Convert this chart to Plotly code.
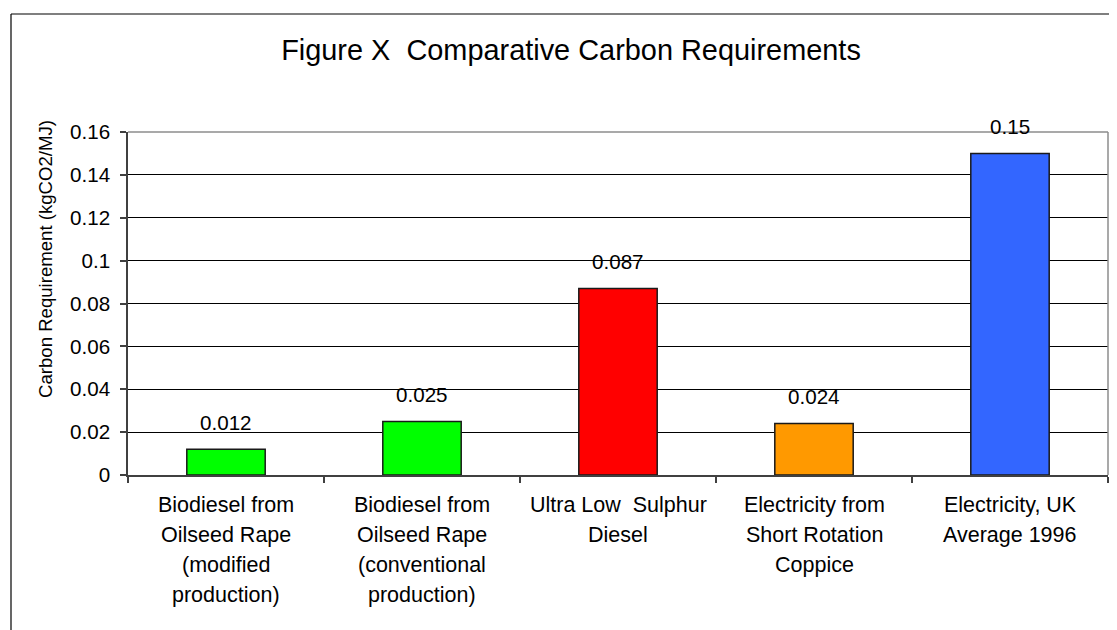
import plotly.graph_objects as go

categories = [
    "Biodiesel from<br>Oilseed Rape<br>(modified<br>production)",
    "Biodiesel from<br>Oilseed Rape<br>(conventional<br>production)",
    "Ultra Low  Sulphur<br>Diesel",
    "Electricity from<br>Short Rotation<br>Coppice",
    "Electricity, UK<br>Average 1996",
]
values = [0.012, 0.025, 0.087, 0.024, 0.15]
value_labels = ["0.012", "0.025", "0.087", "0.024", "0.15"]
bar_colors = ["#00FF00", "#00FF00", "#FF0000", "#FF9900", "#3366FF"]
y_ticks = [0, 0.02, 0.04, 0.06, 0.08, 0.1, 0.12, 0.14, 0.16]
y_tick_text = ["0", "0.02", "0.04", "0.06", "0.08", "0.1", "0.12", "0.14", "0.16"]

W, H = 1117, 630
OFF = 8  # page offset of the figure in the browser
L, R, T, B = 128, 1108, 132, 475  # plot area in reference pixels
FONT = "Liberation Sans, Arial, sans-serif"

fig = go.Figure()
fig.add_trace(go.Bar(
    x=list(range(len(categories))),
    y=values,
    marker=dict(color=bar_colors, line=dict(color="#1a1a1a", width=1.5)),
    width=0.4,
    hoverinfo="skip",
))

pw, ph = R - L, B - T
def px2x(px):
    return (px - L) / pw
def py2y(py):
    return (B - py) / ph

annotations = []
for i, (v, lab) in enumerate(zip(values, value_labels)):
    annotations.append(dict(
        x=i, y=v, xref="x", yref="y", text=lab, showarrow=False,
        yanchor="middle", yshift=27,
        font=dict(family=FONT, size=20.6, color="black"),
    ))
for i, cat in enumerate(categories):
    for j, line in enumerate(cat.split("<br>")):
        annotations.append(dict(
            x=i, y=0, xref="x", yref="paper", text=line.replace("  ", "\u00a0 "),
            showarrow=False, yanchor="middle", yshift=-(30 + 30 * j),
            font=dict(family=FONT, size=21.5, color="black"),
        ))
annotations.append(dict(
    x=px2x(45), y=py2y(259), xref="paper", yref="paper",
    text="Carbon Requirement (kgCO2/MJ)", textangle=-90, showarrow=False,
    xanchor="center", yanchor="middle",
    font=dict(family=FONT, size=18.6, color="black"),
))

shapes = [
    # outer chart border (left and top)
    dict(type="line", xref="paper", yref="paper", x0=px2x(11), x1=px2x(11),
         y0=py2y(14), y1=py2y(700), line=dict(color="black", width=1.2), layer="above"),
    dict(type="line", xref="paper", yref="paper", x0=px2x(11), x1=px2x(1200),
         y0=py2y(14), y1=py2y(14), line=dict(color="black", width=1.2), layer="above"),
    # plot area border top/right
    dict(type="line", xref="paper", yref="paper", x0=0, x1=1, y0=1, y1=1,
         line=dict(color="#8c8c8c", width=1.5), layer="above"),
    dict(type="line", xref="paper", yref="paper", x0=1, x1=1, y0=0, y1=1,
         line=dict(color="#8c8c8c", width=1.5), layer="above"),
]

fig.update_layout(
    width=W, height=H,
    margin=dict(l=L - OFF, r=W - (R - OFF), t=T - OFF, b=H - (B - OFF), pad=0),
    paper_bgcolor="white", plot_bgcolor="white",
    showlegend=False,
    title=dict(
        text="Figure X\u00a0 Comparative Carbon Requirements",
        x=(571 - OFF) / W, xref="container", xanchor="center",
        y=1 - (50 - OFF) / H, yref="container", yanchor="middle",
        font=dict(family=FONT, size=28.9, color="black"),
    ),
    xaxis=dict(
        type="category",
        range=[-0.5, len(categories) - 0.5],
        showticklabels=False,
        ticks="outside", ticklen=6, tickcolor="#404040", tickwidth=1.5,
        tickson="boundaries",
        showline=True, linecolor="#404040", linewidth=1.5,
        showgrid=False, zeroline=False,
    ),
    yaxis=dict(
        range=[0, 0.16],
        tickvals=y_ticks, ticktext=y_tick_text,
        ticks="outside", ticklen=6, tickcolor="#404040", tickwidth=1.5,
        tickfont=dict(family=FONT, size=20.6, color="black"),
        ticklabelstandoff=6,
        showline=True, linecolor="#404040", linewidth=1.5,
        showgrid=True, gridcolor="black", gridwidth=1,
        zeroline=False,
    ),
    annotations=annotations,
    shapes=shapes,
)

fig.write_html("out.html")
